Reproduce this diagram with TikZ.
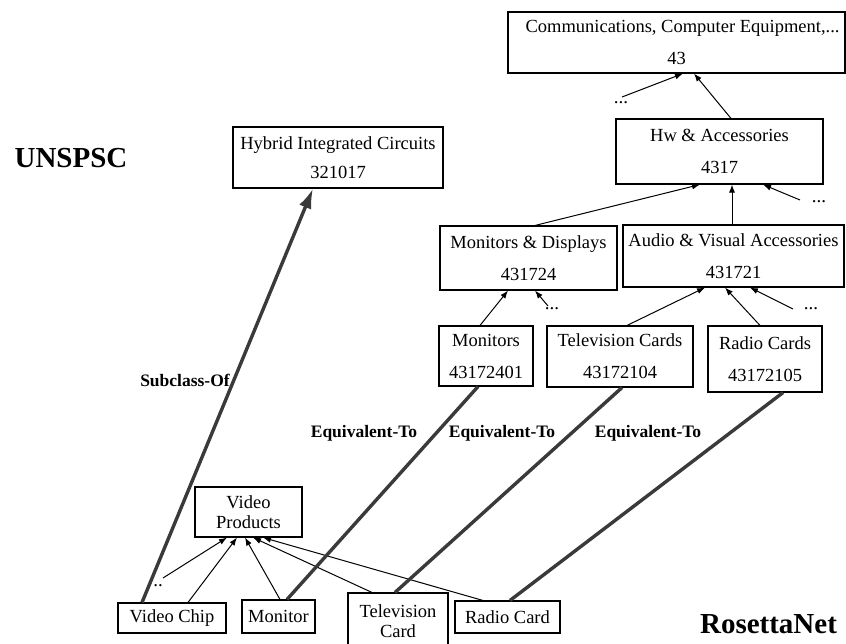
\documentclass[tikz,border=0pt]{standalone}
\usepackage{fontspec}
\setmainfont{Liberation Serif}
\usetikzlibrary{arrows.meta}
\definecolor{thickgray}{HTML}{3A3A3A}
\begin{document}
\begin{tikzpicture}[x=1pt,y=-1pt,
  box/.style={draw=black, line width=1.1pt, inner sep=0pt, align=center,
    font=\fontsize{18.5}{32}\selectfont},
  smallbox/.style={box, font=\fontsize{18.5}{20}\selectfont},
  arr/.style={line width=1pt, -{Latex[length=8pt,width=6pt]}},
  thick link/.style={draw=thickgray, line width=3.4pt},
  dots/.style={font=\fontsize{19}{20}\selectfont, inner sep=0pt},
  blab/.style={font=\bfseries\fontsize{17.5}{20}\selectfont, inner sep=0pt},
  title/.style={font=\bfseries\fontsize{29}{32}\selectfont, inner sep=0pt}]
\useasboundingbox (0,0) rectangle (846,643);
\fill[white] (0,0) rectangle (846,643);

% UNSPSC boxes
\node[box, minimum width=337pt, minimum height=61pt] (comm) at (676.5,42.5) {\hspace*{12pt}Communications, Computer Equipment,...\\43};
\node[box, minimum width=207pt, minimum height=65pt] (hw) at (719.5,151.5) {Hw \& Accessories\\4317};
\node[box, minimum width=177pt, minimum height=64pt] (md) at (528.5,258) {Monitors \& Displays\\431724};
\node[box, minimum width=221pt, minimum height=62pt] (av) at (733.5,256) {Audio \& Visual Accessories\\431721};
\node[box, minimum width=94pt, minimum height=60pt] (mon) at (486,356) {Monitors\\43172401};
\node[box, minimum width=146pt, minimum height=61pt] (tvc) at (620,356.5) {Television Cards\\43172104};
\node[box, minimum width=114pt, minimum height=66pt] (rc) at (765,359) {Radio Cards\\43172105};
\node[box, minimum width=210pt, minimum height=61pt, font=\fontsize{18.5}{29}\selectfont] (hyb) at (338,157.5) {Hybrid Integrated Circuits\\321017};

% RosettaNet boxes
\node[smallbox, minimum width=107pt, minimum height=50pt] (vp) at (248.5,512) {Video\\Products};
\node[smallbox, minimum width=108pt, minimum height=30pt] (vchip) at (172,618) {Video Chip};
\node[smallbox, minimum width=73pt, minimum height=33pt] (monitor) at (278.5,616.5) {Monitor};
\node[smallbox, minimum width=100pt, minimum height=57pt] (tvcard) at (398,621.5) {Television\\Card};
\node[smallbox, minimum width=105pt, minimum height=32pt] (rcard) at (507.5,617) {Radio Card};

% dots
\node[dots] (d1) at (621,103) {...};
\node[dots] (d2) at (819,202) {...};
\node[dots] (d3) at (552,309) {...};
\node[dots] (d4) at (811,309) {...};
\node[dots] (d5) at (158,586) {..};
\coordinate (d1s) at (622,97);
\coordinate (d2s) at (800,200);
\coordinate (d3s) at (548,306);
\coordinate (d4s) at (793,309);
\coordinate (d5s) at (163,578);

% hierarchy arrows
\draw[arr] ([xshift=11.5pt]hw.north) -- ([xshift=17.5pt]comm.south);
\draw[arr] (d1s) -- ([xshift=6.5pt]comm.south);
\draw[arr] ([xshift=6.5pt]md.north) -- ([xshift=-19.5pt]hw.south);
\draw[arr] ([xshift=-1.5pt]av.north) -- ([xshift=12.5pt]hw.south);
\draw[arr] (d2s) -- ([xshift=43.5pt]hw.south);
\draw[arr] ([xshift=-6pt]mon.north) -- ([xshift=-20.5pt]md.south);
\draw[arr] (d3s) -- ([xshift=6.5pt]md.south);
\draw[arr] ([xshift=7pt]tvc.north) -- ([xshift=-28.5pt]av.south);
\draw[arr] ([xshift=-5pt]rc.north) -- ([xshift=-8.5pt]av.south);
\draw[arr] (d4s) -- ([xshift=16.5pt]av.south);

% RosettaNet arrows
\draw[arr] (d5s) -- ([xshift=-21.5pt]vp.south);
\draw[arr] ([xshift=16pt]vchip.north) -- ([xshift=-11.5pt]vp.south);
\draw[arr] ([xshift=1.5pt]monitor.north) -- ([xshift=-3.5pt]vp.south);
\draw[arr] ([xshift=-26pt]tvcard.north) -- ([xshift=4.5pt]vp.south);
\draw[arr] ([xshift=-24.5pt]rcard.north) -- ([xshift=14.5pt]vp.south);

% mapping links
\draw[thick link, -{Latex[length=20pt,width=13pt]}] ([xshift=-30pt]vchip.north) -- ([xshift=-25pt]hyb.south);
\draw[thick link] ([xshift=-8pt]mon.south) -- ([xshift=8.5pt]monitor.north);
\draw[thick link] ([xshift=2pt]tvc.south) -- ([xshift=-3pt]tvcard.north);
\draw[thick link] ([xshift=18pt]rc.south) -- ([xshift=2.5pt]rcard.north);

% labels
\node[title] (unspsc) at (71,158) {UNSPSC};
\node[title] (rosetta) at (768.5,624) {RosettaNet};
\node[blab] (sub) at (185,380) {Subclass-Of};
\node[blab] (eq1) at (364,433) {Equivalent-To};
\node[blab] (eq2) at (502,433) {Equivalent-To};
\node[blab] (eq3) at (648,433) {Equivalent-To};
\end{tikzpicture}
\end{document}
